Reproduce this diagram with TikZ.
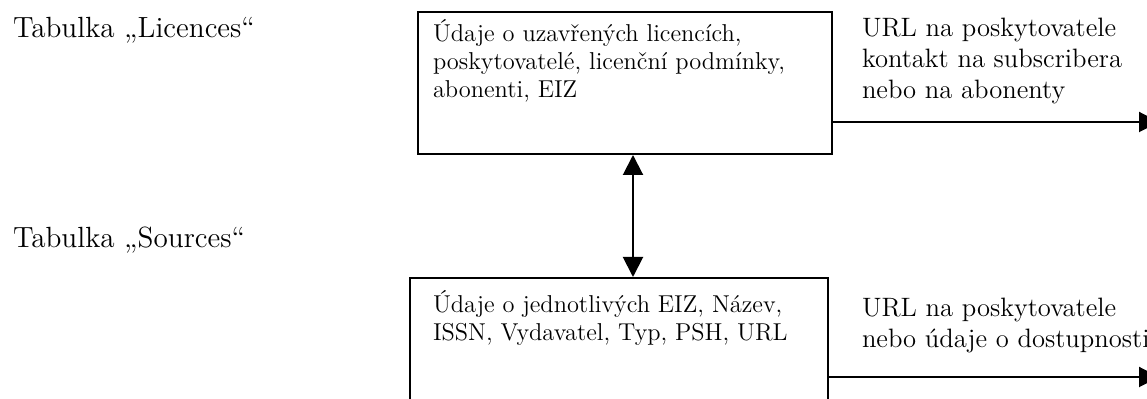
\documentclass[tikz,border=0pt]{standalone}
\usetikzlibrary{arrows.meta}

\begin{document}
\begin{tikzpicture}[
    x=0.5pt, y=-0.5pt,
    line width=1pt,
    tabbox/.style={draw, rectangle, inner sep=0pt},
    note/.style={align=left, inner sep=0pt, anchor=base west},
    titletext/.style={note, font=\fontsize{14.6}{16}\selectfont},
    boxtext/.style={note, font=\fontsize{12.2}{14}\selectfont},
    outtext/.style={note, font=\fontsize{13.3}{15.5}\selectfont},
    flow/.style={-{Triangle[length=10pt,width=10pt]}},
    dflow/.style={{Triangle[length=10pt,width=10pt]}-{Triangle[length=10pt,width=10pt]}}
]
    \useasboundingbox (0,0) rectangle (1147,399);

    % tables
    \node[titletext] (licTitle) at (12,38) {Tabulka „Licences“};
    \node[titletext] (srcTitle) at (12,248) {Tabulka „Sources“};

    % boxes
    \node[tabbox, minimum width=207pt, minimum height=71pt] (licences) at (625,83) {};
    \node[tabbox, minimum width=209pt, minimum height=90pt] (sources) at (619,368) {};

    % base anchor = last line
    \node[boxtext] (licText) at (432,98) {Údaje o uzavřených licencích,\\poskytovatelé, licenční podmínky,\\abonenti, EIZ};
    \node[boxtext] (srcText) at (432,341) {Údaje o jednotlivých EIZ, Název,\\ISSN, Vydavatel, Typ, PSH, URL};

    \node[outtext] (licOut) at (861,99) {URL na poskytovatele\\kontakt na subscribera\\nebo na abonenty};
    \node[outtext] (srcOut) at (861,348) {URL na poskytovatele\\nebo údaje o dostupnosti};

    % connectors
    \coordinate (link) at (633,0);
    \coordinate (licEnd) at (1159,122);
    \coordinate (srcEnd) at (1159,377);
    \draw[dflow] (licences.south -| link) -- (sources.north -| link);
    \draw[flow] (licences.east |- licEnd) -- (licEnd);
    \draw[flow] (sources.east |- srcEnd) -- (srcEnd);
\end{tikzpicture}
\end{document}
